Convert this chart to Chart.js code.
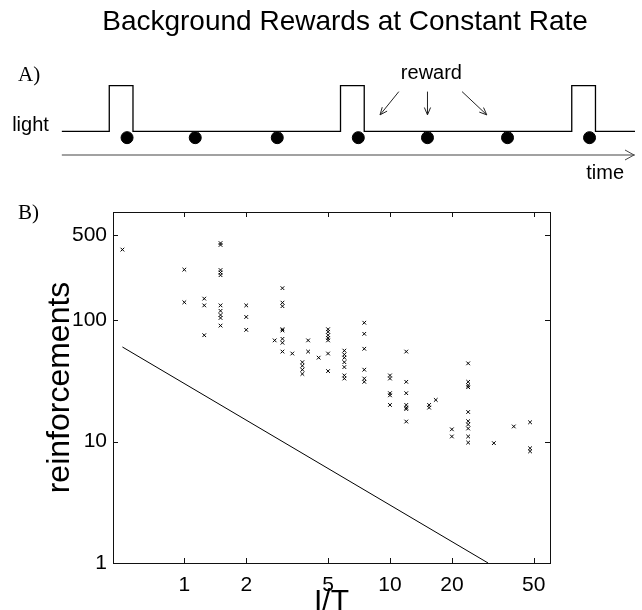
<!DOCTYPE html>
<html>
<head>
<meta charset="utf-8">
<script src="https://cdn.jsdelivr.net/npm/chart.js@4.4.1/dist/chart.umd.min.js"></script>
<style>
  html, body { margin: 0; padding: 0; background: #fff; overflow: hidden; }
  #top { position: absolute; left: 0; top: 0; }
  #bottom { position: absolute; left: 0; top: 190px; }
</style>
</head>
<body>
<canvas id="top" width="642" height="190"></canvas>
<canvas id="bottom" width="642" height="440"></canvas>
<script>
// ---------- panel A: light pulses and rewards on a time line ----------
const pulseStart = [4.8, 28.2, 51.6];
const pulseEnd = [7.2, 30.6, 54.0];
const rewardTimes = [6.6, 13.5, 21.8, 30.0, 37.0, 45.1, 53.4];
const timeEnd = 58;
const lightLow = 0;
const lightHigh = 1;
const rewardLevel = -0.14;
const timeAxisLevel = -0.52;
// arrows from the "reward" label down to the line
const arrowFrom = [34.1, 37.0, 40.5];
const arrowTo = [32.2, 37.0, 43.0];
const arrowTop = 0.87;
const arrowTip = 0.36;
const rewardLabelTime = 37.4;
const rewardLabelLevel = 1.27;

// ---------- panel B: reinforcements vs I/T (log-log) ----------
const ratioIT = [
  0.5,
  1, 1,
  1.25, 1.25, 1.25,
  1.5, 1.5, 1.5, 1.5, 1.5, 1.5, 1.5, 1.5, 1.5, 1.5,
  2, 2, 2,
  2.75,
  3, 3, 3, 3, 3, 3, 3, 3,
  3.35,
  3.75, 3.75, 3.75, 3.75,
  4, 4,
  4.5,
  5, 5, 5, 5, 5, 5, 5,
  6, 6, 6, 6, 6, 6, 6,
  7.5, 7.5, 7.5, 7.5, 7.5, 7.5,
  10, 10, 10, 10, 10,
  12, 12, 12, 12, 12, 12, 12,
  15.5, 15.5,
  16.7,
  20, 20,
  24, 24, 24, 24, 24, 24, 24, 24, 24, 24,
  32,
  40,
  48, 48, 48
];
const reinforcements = [
  380,
  260, 140,
  150, 132, 75,
  430, 415, 258, 246, 234, 132, 119, 110, 104, 90,
  132, 106, 83,
  68,
  183, 139, 130, 84, 82, 70, 65, 55,
  53,
  45, 42, 39, 36,
  68, 55,
  49,
  84, 80, 75, 71, 68, 53, 38,
  56, 52, 49, 45, 41, 35, 33,
  95, 77, 58, 39, 33, 31,
  35, 33, 25, 24, 20,
  55, 31, 25, 20, 19, 18.5, 14.6,
  20, 19,
  22,
  12.6, 11,
  44, 31, 29, 28, 17.5, 14.7, 13.8, 12.8, 11, 9.8,
  9.7,
  13.3,
  14.4, 8.8, 8.3
];
// reference line
const lineIT = [0.5, 30];
const lineReinf = [60, 1];

const xTicks = [1, 2, 5, 10, 20, 50];
const yTicks = [1, 10, 100, 500];
const xRange = [0.45, 60];
const yRange = [1, 775];

const sans = '"Liberation Sans", Arial, Helvetica, sans-serif';
const serif = '"Liberation Serif", "Times New Roman", serif';

// build the light trace from the pulse arrays
const lightPoints = [{ x: 0, y: lightLow }];
pulseStart.forEach((t, i) => {
  lightPoints.push({ x: t, y: lightLow }, { x: t, y: lightHigh },
                   { x: pulseEnd[i], y: lightHigh }, { x: pulseEnd[i], y: lightLow });
});
lightPoints.push({ x: timeEnd, y: lightLow });
const rewardPoints = rewardTimes.map(t => ({ x: t, y: rewardLevel }));
const timePoints = [{ x: 0, y: timeAxisLevel }, { x: timeEnd, y: timeAxisLevel }];

function drawArrow(ctx, x0, y0, x1, y1, size) {
  const ang = Math.atan2(y1 - y0, x1 - x0);
  ctx.beginPath();
  ctx.moveTo(x0, y0);
  ctx.lineTo(x1, y1);
  ctx.moveTo(x1 - size * Math.cos(ang - 0.4), y1 - size * Math.sin(ang - 0.4));
  ctx.lineTo(x1, y1);
  ctx.lineTo(x1 - size * Math.cos(ang + 0.4), y1 - size * Math.sin(ang + 0.4));
  ctx.stroke();
}

const schematicPlugin = {
  id: 'schematic',
  afterDatasetsDraw(chart) {
    const { ctx, scales: { x, y } } = chart;
    ctx.save();
    ctx.strokeStyle = '#222';
    ctx.lineWidth = 1;
    arrowFrom.forEach((t0, i) => {
      drawArrow(ctx, x.getPixelForValue(t0), y.getPixelForValue(arrowTop),
                x.getPixelForValue(arrowTo[i]), y.getPixelForValue(arrowTip), 8);
    });
    // open arrow head at the end of the time axis
    const tx = x.getPixelForValue(timeEnd) - 1;
    const ty = y.getPixelForValue(timeAxisLevel);
    ctx.strokeStyle = '#444';
    ctx.beginPath();
    ctx.moveTo(tx - 9, ty - 5);
    ctx.lineTo(tx, ty);
    ctx.lineTo(tx - 9, ty + 5);
    ctx.stroke();

    ctx.fillStyle = '#000';
    ctx.font = '20px ' + sans;
    ctx.textAlign = 'center';
    ctx.textBaseline = 'middle';
    ctx.fillText('reward', x.getPixelForValue(rewardLabelTime), y.getPixelForValue(rewardLabelLevel));
    ctx.textAlign = 'right';
    ctx.textBaseline = 'alphabetic';
    ctx.fillText('light', x.getPixelForValue(0) - 13, y.getPixelForValue(lightLow));
    ctx.fillText('time', tx - 10, ty + 24);
    ctx.font = '21px ' + serif;
    ctx.textAlign = 'left';
    ctx.textBaseline = 'middle';
    ctx.fillText('A)', 18, 75);
    ctx.restore();
  }
};

new Chart(document.getElementById('top'), {
  type: 'line',
  data: {
    datasets: [
      { data: lightPoints, borderColor: '#000', borderWidth: 1.3, pointRadius: 0, tension: 0, clip: false },
      { data: rewardPoints, showLine: false, pointRadius: 6, pointBackgroundColor: '#000',
        pointBorderColor: '#000', clip: false },
      { data: timePoints, borderColor: '#444', borderWidth: 1.2, pointRadius: 0, clip: false }
    ]
  },
  options: {
    responsive: false,
    animation: false,
    events: [],
    layout: { padding: { left: 48, right: 0, top: 0, bottom: 30 } },
    plugins: {
      legend: { display: false },
      tooltip: { enabled: false },
      title: {
        display: true,
        text: 'Background Rewards at Constant Rate',
        color: '#000',
        font: { family: sans, size: 28, weight: 'normal', lineHeight: 1.2 },
        padding: { top: 5, bottom: 41.4 }
      }
    },
    scales: {
      x: { type: 'linear', min: -1.4, max: timeEnd, display: false },
      y: { type: 'linear', min: -0.63, max: 1.125, display: false }
    }
  },
  plugins: [schematicPlugin]
});

// frame with inward ticks on all four sides
const framePlugin = {
  id: 'frame',
  afterDraw(chart) {
    const { ctx, chartArea: a, scales: { x, y } } = chart;
    ctx.save();
    ctx.strokeStyle = '#111';
    ctx.lineWidth = 1;
    ctx.strokeRect(Math.round(a.left) + 0.5, Math.round(a.top) + 0.5,
                   Math.round(a.right - a.left), Math.round(a.bottom - a.top));
    ctx.beginPath();
    x.ticks.forEach(t => {
      const px = Math.round(x.getPixelForValue(t.value)) + 0.5;
      ctx.moveTo(px, a.bottom); ctx.lineTo(px, a.bottom - 5);
      ctx.moveTo(px, a.top); ctx.lineTo(px, a.top + 5);
    });
    y.ticks.forEach(t => {
      const py = Math.round(y.getPixelForValue(t.value)) + 0.5;
      ctx.moveTo(a.left, py); ctx.lineTo(a.left + 5, py);
      ctx.moveTo(a.right, py); ctx.lineTo(a.right - 5, py);
    });
    ctx.stroke();
    ctx.fillStyle = '#000';
    ctx.font = '21px ' + serif;
    ctx.textAlign = 'left';
    ctx.textBaseline = 'middle';
    ctx.fillText('B)', 18, 23);
    ctx.restore();
  }
};

const scatterPoints = ratioIT.map((v, i) => ({ x: v, y: reinforcements[i] }));
const linePoints = lineIT.map((v, i) => ({ x: v, y: lineReinf[i] }));

new Chart(document.getElementById('bottom'), {
  type: 'scatter',
  data: {
    datasets: [
      { data: scatterPoints, pointStyle: 'crossRot', pointRadius: 2.6, borderColor: '#000',
        backgroundColor: '#000', borderWidth: 1 },
      { data: linePoints, showLine: true, borderColor: '#000', borderWidth: 1, pointRadius: 0 }
    ]
  },
  options: {
    responsive: false,
    animation: false,
    events: [],
    layout: { padding: { top: 22, right: 92, left: 0, bottom: 0 } },
    plugins: { legend: { display: false }, tooltip: { enabled: false } },
    scales: {
      x: {
        type: 'logarithmic',
        min: xRange[0],
        max: xRange[1],
        afterBuildTicks: s => { s.ticks = xTicks.map(v => ({ value: v })); },
        afterFit: s => { s.height = 67; },
        grid: { display: false, drawTicks: false },
        border: { display: false },
        ticks: {
          color: '#000', padding: 10, autoSkip: false, maxRotation: 0,
          font: { family: sans, size: 21 },
          callback: v => String(v)
        },
        title: {
          display: true, text: 'I/T', color: '#000',
          font: { family: sans, size: 30, lineHeight: 1 },
          padding: { top: 0, bottom: 13 }
        }
      },
      y: {
        type: 'logarithmic',
        min: yRange[0],
        max: yRange[1],
        afterBuildTicks: s => { s.ticks = yTicks.map(v => ({ value: v })); },
        afterFit: s => { s.width = 113; },
        grid: { display: false, drawTicks: false },
        border: { display: false },
        ticks: {
          color: '#000', padding: 6, autoSkip: false,
          font: { family: sans, size: 21 },
          callback: v => String(v)
        },
        title: {
          display: true, text: 'reinforcements', color: '#000',
          font: { family: sans, size: 32, lineHeight: 1 },
          padding: { top: 44, bottom: 0 }
        }
      }
    }
  },
  plugins: [framePlugin]
});
</script>
</body>
</html>
